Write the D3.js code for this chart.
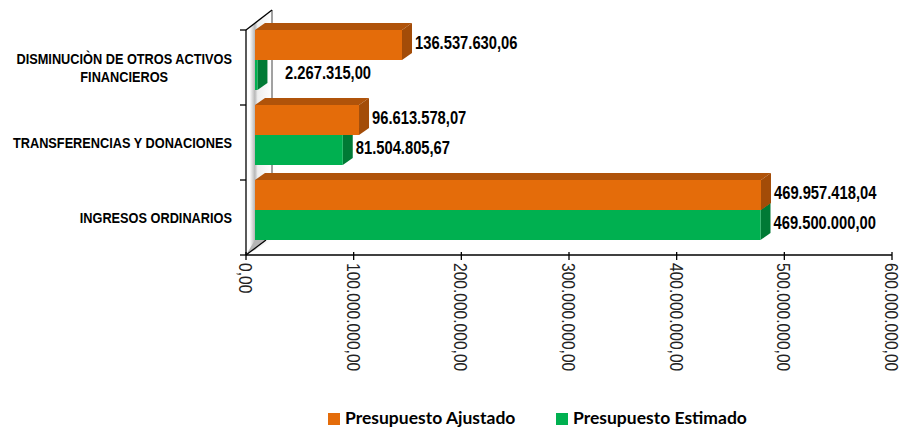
<!DOCTYPE html>
<html><head><meta charset="utf-8">
<script src="https://cdn.jsdelivr.net/npm/d3@7/dist/d3.min.js"></script>
<style>
html,body{margin:0;padding:0;background:#fff;}
svg{display:block;}
.narrow{font-family:"Liberation Sans",Arial,sans-serif;}
</style></head>
<body>
<script>
const categories = ["DISMINUCIÒN DE OTROS ACTIVOS|FINANCIEROS", "TRANSFERENCIAS Y DONACIONES", "INGRESOS ORDINARIOS"];
const seriesNames = ["Presupuesto Ajustado", "Presupuesto Estimado"];
const ajustado = [136537630.06, 96613578.07, 469957418.04];
const estimado = [2267315.00, 81504805.67, 469500000.00];
const valueLabelsAjustado = ["136.537.630,06", "96.613.578,07", "469.957.418,04"];
const valueLabelsEstimado = ["2.267.315,00", "81.504.805,67", "469.500.000,00"];
const xTicks = [0, 100000000, 200000000, 300000000, 400000000, 500000000, 600000000];
const xTickLabels = ["0,00", "100.000.000,00", "200.000.000,00", "300.000.000,00", "400.000.000,00", "500.000.000,00", "600.000.000,00"];
const colors = {front: ["#E46C0A", "#00B050"], top: ["#B0530A", "#008A3C"], side: ["#A34C08", "#007A35"]};

const W = 902, H = 428;
const NS = 0.82; // horizontal squeeze to imitate a narrow face
const NSC = 0.85;
const svg = d3.select("body").append("svg").attr("width", W).attr("height", H);
const defs = svg.append("defs");
const g1 = defs.append("linearGradient").attr("id", "wallGrad").attr("x1", "0").attr("x2", "1").attr("y1", "0").attr("y2", "0");
g1.append("stop").attr("offset", "0%").attr("stop-color", "#ffffff");
g1.append("stop").attr("offset", "14%").attr("stop-color", "#ffffff");
g1.append("stop").attr("offset", "34%").attr("stop-color", "#b8b8b8");
g1.append("stop").attr("offset", "45%").attr("stop-color", "#eeeeee");
g1.append("stop").attr("offset", "100%").attr("stop-color", "#ffffff");

const x = d3.scaleLinear().domain([0, 600000000]).range([246, 892]);
const y = d3.scaleBand().domain(categories).range([30, 255]).paddingInner(0).paddingOuter(0);
const ySub = d3.scaleBand().domain(seriesNames).range([0, y.step() * 0.8]);

const x0 = x(0), yTop = y.range()[0], yBot = y.range()[1];
const wallDx = 26, wallDy = -20;
const frontOff = 9;
const dx = 10, dy = -7;

// side wall
svg.append("path")
  .attr("d", `M${x0},${yTop} L${x0 + wallDx},${yTop + wallDy} L${x0 + wallDx},${yBot - 15} L${x0},${yBot} Z`)
  .attr("fill", "url(#wallGrad)");
svg.append("path")
  .attr("d", `M${x0},${yBot} L${x0 + 20},${yBot - 15} L${x0 + frontOff},${yBot - 15} Z`)
  .attr("fill", "#b5b5b5");
svg.append("line").attr("x1", x0 + wallDx).attr("x2", x0 + wallDx).attr("y1", yTop + wallDy).attr("y2", yBot - 15)
  .attr("stroke", "#444").attr("stroke-width", 1);
svg.append("line").attr("x1", x0).attr("x2", x0 + wallDx).attr("y1", yTop).attr("y2", yTop + wallDy)
  .attr("stroke", "#000").attr("stroke-width", 1.3);
svg.append("line").attr("x1", x0).attr("x2", x0 + 20).attr("y1", yBot).attr("y2", yBot - 15)
  .attr("stroke", "#000").attr("stroke-width", 1.3);

// bars
const seriesData = [ajustado, estimado];
const labelData = [valueLabelsAjustado, valueLabelsEstimado];
const barsG = svg.append("g");
categories.forEach((c, ci) => {
  [1, 0].forEach(si => {
    const v = seriesData[si][ci];
    const xf0 = x(0) + frontOff, xf1 = x(v) + frontOff;
    const yt = y(c) + ySub(seriesNames[si]);
    const yb = yt + ySub.bandwidth();
    const g = barsG.append("g");
    g.append("path").attr("d", `M${xf0},${yt} L${xf0 + dx},${yt + dy} L${xf1 + dx},${yt + dy} L${xf1},${yt} Z`).attr("fill", colors.top[si]);
    g.append("path").attr("d", `M${xf1},${yt} L${xf1 + dx},${yt + dy} L${xf1 + dx},${yb + dy} L${xf1},${yb} Z`).attr("fill", colors.side[si]);
    g.append("rect").attr("x", xf0).attr("y", yt).attr("width", Math.max(0, xf1 - xf0)).attr("height", yb - yt).attr("fill", colors.front[si]);
  });
});
// value labels
categories.forEach((c, ci) => {
  [0, 1].forEach(si => {
    const v = seriesData[si][ci];
    const yt = y(c) + ySub(seriesNames[si]);
    const yc = yt + ySub.bandwidth() / 2 + dy / 2 + 1;
    const lx = Math.max(x(v) + frontOff + dx + 3, x(0) + 39);
    svg.append("g").attr("transform", `translate(${lx},${yc}) scale(${NS},1)`)
      .append("text").attr("class", "narrow")
      .attr("dy", "0.36em")
      .attr("font-size", 18).attr("font-weight", "bold").attr("fill", "#000")
      .text(labelData[si][ci]);
  });
});

// left axis
svg.append("line").attr("x1", x0).attr("x2", x0).attr("y1", yTop).attr("y2", yBot).attr("stroke", "#000").attr("stroke-width", 1.3);
const yTickPos = categories.map(c => y(c)).concat([yBot]);
yTickPos.forEach(p => {
  svg.append("line").attr("x1", x0 - 6).attr("x2", x0).attr("y1", p).attr("y2", p).attr("stroke", "#000").attr("stroke-width", 1.3);
});
// category labels (block right-aligned at x=232, lines centred)
categories.forEach(c => {
  const lines = c.split("|");
  const yc = y(c) + y.bandwidth() / 2;
  const g = svg.append("g");
  const t = g.append("text").attr("class", "narrow").attr("font-size", 15).attr("font-weight", "bold")
    .attr("fill", "#000").attr("text-anchor", "middle");
  const lh = 18;
  const tsp = lines.map((l, i) => t.append("tspan").attr("x", 0)
    .attr("y", (i - (lines.length - 1) / 2) * lh).attr("dy", "0.36em").text(l));
  const w = d3.max(tsp, s => s.node().getComputedTextLength()) * NSC;
  g.attr("transform", `translate(${232 - w / 2},${yc}) scale(${NSC},1)`);
});

// bottom axis
const xAxisG = svg.append("g").attr("transform", `translate(0,${yBot})`);
xAxisG.append("line").attr("x1", x.range()[0]).attr("x2", x.range()[1]).attr("stroke", "#000").attr("stroke-width", 1.3);
xTicks.forEach((t, i) => {
  xAxisG.append("line").attr("x1", x(t)).attr("x2", x(t)).attr("y1", -3).attr("y2", 5).attr("stroke", "#000").attr("stroke-width", 1.3);
  xAxisG.append("g").attr("transform", `translate(${x(t)},8) rotate(90) scale(${NS},1)`)
    .append("text").attr("class", "narrow")
    .attr("dy", "0.36em").attr("font-size", 19).attr("fill", "#222")
    .text(xTickLabels[i]);
});

// legend
const legend = svg.append("g").attr("font-family", "Lato, 'Open Sans', sans-serif").attr("font-weight", "bold").attr("font-size", 17.5);
const legX = [328, 556];
seriesNames.forEach((s, i) => {
  legend.append("rect").attr("x", legX[i]).attr("y", 413).attr("width", 12).attr("height", 12).attr("fill", colors.front[i]);
  legend.append("text").attr("x", legX[i] + 17).attr("y", 424).attr("fill", "#000").text(s);
});
</script>
</body></html>
